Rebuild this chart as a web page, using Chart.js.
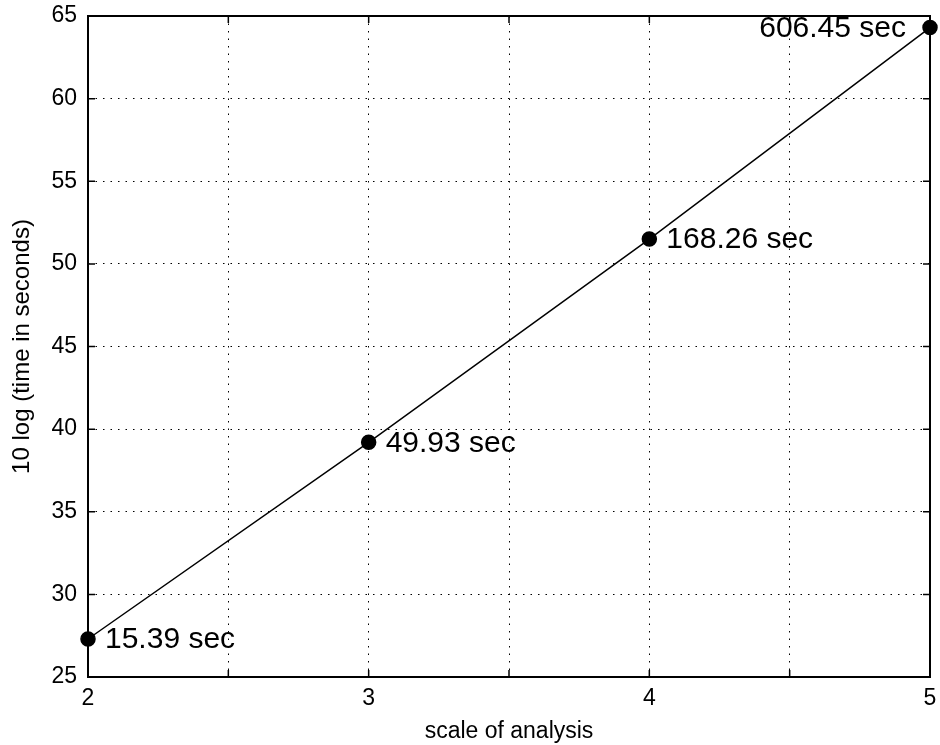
<!DOCTYPE html>
<html>
<head>
<meta charset="utf-8">
<script src="https://cdn.jsdelivr.net/npm/chart.js@4/dist/chart.umd.min.js"></script>
<style>
  html, body { margin: 0; padding: 0; background: #fff; }
  #box { width: 940px; height: 745px; }
</style>
</head>
<body>
<div id="box"><canvas id="grafico"></canvas></div>
<script>
// scale of analysis vs 10 log(time)
const escalas = [2, 3, 4, 5];
const logTempo = [27.3, 39.2, 51.5, 64.3];
const rotulos = ["15.39 sec", "49.93 sec", "168.26 sec", "606.45 sec"];
const ticksY = [25, 30, 35, 40, 45, 50, 55, 60, 65];

const fonte = "Arial, 'Liberation Sans', sans-serif";

// moldura + rotulos dos pontos
const moldura = {
  id: "moldura",
  afterDatasetsDraw(chart) {
    const { ctx, chartArea: a, scales: { x, y } } = chart;
    ctx.save();
    ctx.strokeStyle = "#000";
    ctx.lineWidth = 2;
    ctx.strokeRect(a.left, a.top, a.right - a.left, a.bottom - a.top);

    // pequenos ticks para dentro (estilo matlab)
    ctx.lineWidth = 1.5;
    for (let v = 2; v <= 5; v += 0.5) {
      const px = x.getPixelForValue(v);
      ctx.beginPath();
      ctx.moveTo(px, a.bottom); ctx.lineTo(px, a.bottom - 7);
      ctx.moveTo(px, a.top); ctx.lineTo(px, a.top + 7);
      ctx.stroke();
    }
    ticksY.forEach(v => {
      const py = y.getPixelForValue(v);
      ctx.beginPath();
      ctx.moveTo(a.left, py); ctx.lineTo(a.left + 7, py);
      ctx.moveTo(a.right, py); ctx.lineTo(a.right - 7, py);
      ctx.stroke();
    });

    ctx.fillStyle = "#000";
    ctx.font = "30px " + fonte;
    ctx.textBaseline = "middle";
    escalas.forEach((e, i) => {
      const px = x.getPixelForValue(e);
      const py = y.getPixelForValue(logTempo[i]);
      if (i === escalas.length - 1) {
        ctx.textAlign = "right";
        ctx.fillText(rotulos[i], px - 24, py + 1);
      } else {
        ctx.textAlign = "left";
        ctx.fillText(rotulos[i], px + 17, py + 1);
      }
    });
    ctx.restore();
  }
};

new Chart(document.getElementById("grafico"), {
  type: "line",
  data: {
    datasets: [{
      label: "tempo",
      data: escalas.map((e, i) => ({ x: e, y: logTempo[i] })),
      borderColor: "#000",
      borderWidth: 1.5,
      backgroundColor: "#000",
      pointBackgroundColor: "#000",
      pointBorderColor: "#000",
      pointRadius: 7,
      pointHoverRadius: 7,
      fill: false,
      tension: 0,
      clip: false
    }]
  },
  options: {
    responsive: true,
    maintainAspectRatio: false,
    animation: false,
    layout: { padding: { top: 16, right: 10, left: 0, bottom: 0 } },
    plugins: {
      legend: { display: false },
      tooltip: { enabled: false }
    },
    scales: {
      x: {
        type: "linear",
        min: 2,
        max: 5,
        afterFit: s => { s.height = 68; s.paddingLeft = 0; s.paddingRight = 0; },
        border: { display: false, dash: [1.5, 6] },
        grid: { color: "#000", lineWidth: 1, drawTicks: false },
        ticks: {
          stepSize: 0.5,
          padding: 8,
          color: "#000",
          maxRotation: 0,
          font: { family: fonte, size: 23 },
          callback: v => Number.isInteger(v) ? v : ""
        },
        title: {
          display: true,
          text: "scale of analysis",
          color: "#000",
          padding: { top: 0, bottom: 0 },
          font: { family: fonte, size: 23 }
        }
      },
      y: {
        min: 25,
        max: 65,
        afterFit: s => { s.width = 88; s.paddingTop = 0; s.paddingBottom = 0; },
        afterBuildTicks: s => { s.ticks = ticksY.map(v => ({ value: v })); },
        border: { display: false, dash: [1.5, 6] },
        grid: { color: "#000", lineWidth: 1, drawTicks: false },
        ticks: {
          padding: 11,
          color: "#000",
          font: { family: fonte, size: 23 }
        },
        title: {
          display: true,
          text: "10 log (time in seconds)",
          color: "#000",
          padding: { top: 8, bottom: 0 },
          font: { family: fonte, size: 24 }
        }
      }
    }
  },
  plugins: [moldura]
});
</script>
</body>
</html>
